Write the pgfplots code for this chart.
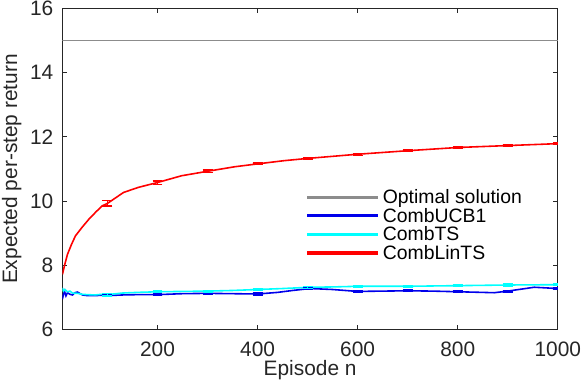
\documentclass[border=0pt]{standalone}
\usepackage{pgfplots}
\pgfplotsset{compat=1.18}
\usepackage{fontspec}
\setmainfont{Liberation Sans}
\definecolor{optgray}{RGB}{140,140,140}
\definecolor{axgray}{RGB}{38,38,38}
\definecolor{mblue}{RGB}{0,0,235}
\definecolor{mcyan}{RGB}{0,255,255}
\definecolor{mred}{RGB}{255,0,0}
\begin{document}
\begin{tikzpicture}
\begin{axis}[
  scale only axis,
  width=498pt, height=323pt,
  xmin=10, xmax=1000, ymin=6, ymax=16,
  xtick={200,400,600,800,1000},
  ytick={6,8,10,12,14,16},
  tick align=inside,
  major tick length=5pt,
  axis line style={axgray, line width=1.3pt},
  tick style={axgray, line width=1pt},
  /pgf/number format/assume math mode=true,
  /pgf/number format/1000 sep={},
  ticklabel style={font=\fontsize{21}{23}\selectfont, text=axgray, inner sep=1pt},
  xticklabel style={yshift=-11pt},
  yticklabel style={xshift=-8pt},
  label style={font=\fontsize{21}{23}\selectfont, text=axgray, inner sep=2pt},
  xlabel={Episode n},
  ylabel={Expected per-step return},
  xlabel style={at={(axis description cs:0.5,0)}, anchor=north, yshift=-29pt},
  ylabel style={at={(axis description cs:0,0.5)}, anchor=south, yshift=39pt},
  legend style={draw=none, fill=none, at={(0.492,0.446)}, anchor=north west,
    font=\fontsize{19.5}{20}\selectfont, row sep=-1pt, column sep=3pt, inner sep=1pt},
  legend cell align=left,
  legend image code/.code={\fill[#1] (0pt,-0.85pt) rectangle (69pt,0.85pt);},
]
\addplot[optgray, line width=1.9pt] coordinates {(10,15) (1000,15)};
\addlegendentry{Optimal solution}

\addplot[mblue, line width=1.6pt] coordinates {
(10,6.95)(12,7.1)(14,7.2)(17,7.05)(20,7.15)(25,7.1)(30,7.08)(35,7.15)(40,7.17)(50,7.08)(60,7.06)(75,7.06)(88,7.07)(100,7.06)(130,7.08)(160,7.09)(200,7.09)(250,7.12)(300,7.13)(350,7.12)(400,7.11)(440,7.16)(470,7.22)(505,7.28)(550,7.25)(600,7.19)(650,7.2)(700,7.21)(750,7.2)(800,7.18)(850,7.16)(873,7.15)(900,7.2)(953,7.32)(1000,7.28)};
\addlegendentry{CombUCB1}

\addplot[mcyan, line width=1.6pt] coordinates {
(10,7.3)(12,7.2)(15,7.25)(20,7.18)(25,7.2)(30,7.14)(40,7.13)(50,7.1)(60,7.09)(75,7.08)(88,7.1)(100,7.09)(130,7.14)(160,7.16)(200,7.18)(250,7.19)(300,7.2)(350,7.22)(400,7.25)(450,7.28)(505,7.32)(550,7.33)(600,7.35)(700,7.35)(800,7.37)(900,7.39)(1000,7.4)};
\addlegendentry{CombTS}

\addplot[mred, line width=1.6pt] coordinates {
(10,7.72)(15,8.05)(20,8.34)(28,8.65)(36,8.92)(50,9.2)(63,9.44)(76,9.65)(89,9.85)(100,9.93)(116,10.1)(132,10.27)(162,10.43)(200,10.58)(248,10.79)(300,10.93)(354,11.07)(400,11.16)(453,11.26)(500,11.33)(600,11.46)(700,11.57)(800,11.67)(900,11.73)(1000,11.79)};
\addlegendentry{CombLinTS}

% error bars
\addplot[mblue, forget plot, draw=none,
  error bars/.cd, y dir=both, y explicit,
  error bar style={mblue, line width=1.2pt},
  error mark options={rotate=90, mark size=5pt, mblue, line width=1.2pt}]
  coordinates {(100,7.06)+-(0,0.04)(200,7.09)+-(0,0.03)(300,7.13)+-(0,0.03)(400,7.11)+-(0,0.03)(500,7.27)+-(0,0.03)(600,7.19)+-(0,0.03)(700,7.21)+-(0,0.03)(800,7.18)+-(0,0.03)(900,7.2)+-(0,0.03)(1000,7.28)+-(0,0.03)};
\addplot[mcyan, forget plot, draw=none,
  error bars/.cd, y dir=both, y explicit,
  error bar style={mcyan, line width=1.2pt},
  error mark options={rotate=90, mark size=5pt, mcyan, line width=1.2pt}]
  coordinates {(100,7.09)+-(0,0.04)(200,7.18)+-(0,0.03)(300,7.2)+-(0,0.03)(400,7.25)+-(0,0.03)(500,7.32)+-(0,0.03)(600,7.35)+-(0,0.03)(700,7.35)+-(0,0.03)(800,7.37)+-(0,0.03)(900,7.39)+-(0,0.03)(1000,7.4)+-(0,0.03)};
\addplot[mred, forget plot, draw=none,
  error bars/.cd, y dir=both, y explicit,
  error bar style={mred, line width=1.2pt},
  error mark options={rotate=90, mark size=5pt, mred, line width=1.2pt}]
  coordinates {(100,9.93)+-(0,0.08)(200,10.58)+-(0,0.05)(300,10.93)+-(0,0.04)(400,11.16)+-(0,0.03)(500,11.33)+-(0,0.03)(600,11.46)+-(0,0.03)(700,11.57)+-(0,0.03)(800,11.67)+-(0,0.03)(900,11.73)+-(0,0.03)(1000,11.79)+-(0,0.03)};
\end{axis}
\end{tikzpicture}
\end{document}
